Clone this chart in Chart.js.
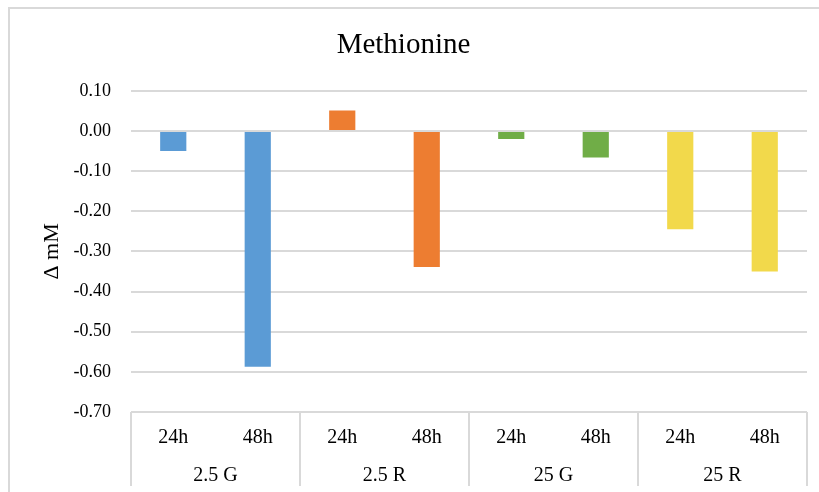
<!DOCTYPE html>
<html>
<head>
<meta charset="utf-8">
<script src="https://cdn.jsdelivr.net/npm/chart.js@4"></script>
<style>
  html, body { margin: 0; padding: 0; background: #fff; }
  #wrap { position: relative; width: 819px; height: 492px; overflow: hidden; }
  #frame { position: absolute; left: 8px; top: 7px; width: 900px; height: 600px; border: 2px solid #d9d9d9; }
  #grafico { position: absolute; left: 0; top: 0; }
</style>
</head>
<body>
<div id="wrap">
  <div id="frame"></div>
  <canvas id="grafico" width="819" height="492"></canvas>
</div>
<script>
// datos
const tiempos = ['24h', '48h', '24h', '48h', '24h', '48h', '24h', '48h'];
const grupos = ['2.5 G', '2.5 R', '25 G', '25 R'];
const valores = [-0.05, -0.587, 0.051, -0.339, -0.02, -0.066, -0.245, -0.35];
const colores = ['#5B9BD5', '#5B9BD5', '#ED7D31', '#ED7D31', '#70AD47', '#70AD47', '#F2D94B', '#F2D94B'];

const fuente = 'Liberation Serif, Times New Roman, serif';
const gris = '#d9d9d9';

// lineas verticales entre grupos en la zona de etiquetas
const separadores = {
  id: 'separadores',
  afterDraw(chart) {
    const x2 = chart.scales.x2;
    const area = chart.chartArea;
    const paso = x2.getPixelForTick(1) - x2.getPixelForTick(0);
    const inicio = x2.getPixelForTick(0) - paso / 2;
    const ctx = chart.ctx;
    ctx.save();
    ctx.strokeStyle = gris;
    ctx.lineWidth = 2;
    for (let i = 0; i <= grupos.length; i++) {
      const px = Math.round(inicio + i * paso);
      ctx.beginPath();
      ctx.moveTo(px, area.bottom);
      ctx.lineTo(px, x2.bottom);
      ctx.stroke();
    }
    ctx.restore();
  }
};

const ctx = document.getElementById('grafico').getContext('2d');
const chart = new Chart(ctx, {
  type: 'bar',
  data: {
    labels: tiempos,
    datasets: [{
      data: valores,
      backgroundColor: colores,
      borderWidth: 0,
      barPercentage: 0.31,
      categoryPercentage: 1
    }]
  },
  options: {
    responsive: false,
    animation: false,
    layout: { padding: { left: 0, right: 12, top: 0, bottom: 6 } },
    plugins: {
      legend: { display: false },
      tooltip: { enabled: false },
      title: {
        display: true,
        text: 'Methionine',
        color: '#000',
        font: { family: fuente, size: 29, weight: 'normal' },
        padding: { top: 28, bottom: 28 }
      }
    },
    scales: {
      y: {
        min: -0.7,
        max: 0.1,
        ticks: {
          stepSize: 0.1,
          color: '#000',
          padding: 20,
          font: { family: fuente, size: 18 },
          callback: v => (Math.abs(v) < 1e-9 ? 0 : v).toFixed(2)
        },
        grid: { color: gris, lineWidth: 2, drawTicks: false },
        border: { display: false },
        title: {
          display: true,
          text: 'Δ mM',
          color: '#000',
          font: { family: fuente, size: 22 },
          padding: { top: 39, bottom: 0 }
        },
        afterFit: s => { s.width = 131; }
      },
      x: {
        ticks: {
          color: '#000',
          padding: 6,
          maxRotation: 0,
          font: { family: fuente, size: 20 }
        },
        grid: { display: false },
        border: { display: false },
        afterFit: s => { s.height = 38; }
      },
      x2: {
        type: 'category',
        position: 'bottom',
        labels: grupos,
        offset: true,
        ticks: {
          color: '#000',
          padding: 6,
          maxRotation: 0,
          font: { family: fuente, size: 20 }
        },
        grid: { display: false },
        border: { display: false },
        afterFit: s => { s.height = 36; }
      }
    }
  },
  plugins: [separadores]
});
</script>
</body>
</html>
